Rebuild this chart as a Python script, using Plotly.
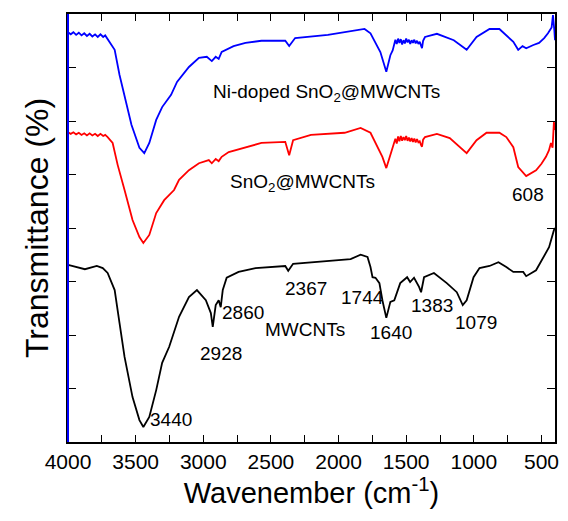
import plotly.graph_objects as go

# Wavenumber (cm^-1) and offset transmittance values
blue_wn = [4000, 3980, 3960, 3940, 3920, 3900, 3880, 3860, 3840, 3820, 3800, 3780, 3760, 3740, 3725, 3714, 3690,
           3655, 3619, 3582, 3531, 3472, 3436, 3399, 3348, 3304, 3238, 3194, 3106, 3032, 2974, 2937, 2908, 2886,
           2864, 2776, 2688, 2570, 2394, 2365, 2321, 2079, 1859, 1808, 1764, 1735, 1691, 1647, 1617,
           1600, 1590, 1580, 1570, 1560, 1550, 1540, 1530, 1520, 1510, 1500, 1490, 1480, 1470, 1460, 1450,
           1440, 1430, 1420, 1410, 1400, 1390, 1383, 1375, 1361, 1273, 1148, 1053, 980, 884, 811, 708, 672,
           640, 613, 560, 518, 480, 452, 425, 415, 405, 400]
blue_y = [7.66, 7.62, 7.66, 7.61, 7.65, 7.60, 7.64, 7.59, 7.63, 7.58, 7.62, 7.57, 7.62, 7.57, 7.60, 7.56, 7.48,
          7.33, 6.86, 6.45, 5.93, 5.50, 5.40, 5.59, 6.02, 6.26, 6.49, 6.73, 7.01, 7.18, 7.20, 7.12, 7.20, 7.16,
          7.29, 7.40, 7.46, 7.50, 7.50, 7.40, 7.55, 7.61, 7.70, 7.72, 7.64, 7.51, 7.29, 6.92, 7.23,
          7.32, 7.42, 7.52, 7.44, 7.54, 7.46, 7.53, 7.43, 7.51, 7.45, 7.54, 7.47, 7.52, 7.44, 7.51, 7.46,
          7.52, 7.45, 7.50, 7.44, 7.48, 7.41, 7.36, 7.50, 7.57, 7.63, 7.51, 7.33, 7.57, 7.72, 7.72, 7.48, 7.33,
          7.40, 7.36, 7.42, 7.46, 7.55, 7.64, 7.75, 7.98, 7.70, 7.51]

red_wn = [4000, 3980, 3960, 3940, 3920, 3900, 3880, 3860, 3840, 3820, 3800, 3780, 3760, 3740, 3725, 3707, 3670,
          3633, 3582, 3523, 3472, 3443, 3399, 3348, 3289, 3216, 3179, 3106, 3032, 2959, 2937, 2908, 2886, 2864,
          2812, 2570, 2394, 2365, 2336, 2204, 1955, 1837, 1764, 1735, 1676, 1647, 1603,
          1590, 1580, 1570, 1560, 1550, 1540, 1530, 1520, 1510, 1500, 1490, 1480, 1470, 1460, 1450, 1440,
          1430, 1420, 1410, 1400, 1390, 1383, 1375, 1361, 1273, 1178, 1053, 980, 906, 811, 760, 708, 672, 613,
          540, 500, 467, 445, 430, 418, 408, 400]
red_y = [5.79, 5.76, 5.79, 5.75, 5.78, 5.74, 5.77, 5.73, 5.77, 5.73, 5.76, 5.72, 5.76, 5.72, 5.74, 5.70, 5.59,
         5.18, 4.71, 4.15, 3.83, 3.72, 3.87, 4.28, 4.52, 4.71, 4.90, 5.08, 5.21, 5.27, 5.21, 5.29, 5.25, 5.33,
         5.42, 5.59, 5.61, 5.36, 5.64, 5.74, 5.78, 5.87, 5.78, 5.64, 5.33, 5.12, 5.46,
         5.60, 5.67, 5.58, 5.71, 5.62, 5.72, 5.63, 5.70, 5.64, 5.72, 5.63, 5.69, 5.62, 5.68, 5.61, 5.67,
         5.60, 5.66, 5.60, 5.62, 5.55, 5.52, 5.65, 5.70, 5.76, 5.68, 5.40, 5.64, 5.78, 5.78, 5.70, 5.51, 5.14, 4.97,
         5.08, 5.20, 5.33, 5.45, 5.59, 5.50, 5.98, 5.83]

black_wn = [4000, 3875, 3787, 3743, 3707, 3655, 3619, 3582, 3523, 3472, 3443, 3399, 3348, 3304, 3252, 3179, 3106,
            3047, 2981, 2944, 2930, 2908, 2886, 2871, 2856, 2827, 2739, 2614, 2394, 2372, 2336, 2079, 1911, 1837,
            1786, 1764, 1749, 1727, 1698, 1676, 1647, 1617, 1588, 1544, 1493, 1471, 1442, 1405, 1390, 1368, 1295,
            1200, 1126, 1082, 1053, 1002, 958, 884, 818, 760, 708, 635, 613, 540, 481, 444, 408, 400]
black_y = [3.31, 3.23, 3.29, 3.25, 3.16, 2.84, 2.22, 1.59, 0.84, 0.41, 0.28, 0.47, 0.97, 1.48, 1.78, 2.34, 2.71,
           2.84, 2.65, 2.41, 2.15, 2.56, 2.65, 2.52, 2.84, 3.07, 3.18, 3.25, 3.29, 3.20, 3.33, 3.38, 3.42, 3.50,
           3.46, 3.27, 3.08, 3.07, 2.97, 2.65, 2.32, 2.62, 2.65, 2.97, 3.08, 2.99, 3.07, 2.90, 2.80, 3.08, 3.16,
           2.97, 2.80, 2.56, 2.65, 3.08, 3.25, 3.29, 3.36, 3.27, 3.18, 3.18, 3.10, 3.21, 3.46, 3.64, 3.96, 4.00]

label_texts = ["3440", "2928", "2860", "2367", "MWCNTs", "1744", "1640", "1383", "1079", "608",
               "Ni-doped SnO<sub>2</sub>@MWCNTs", "SnO<sub>2</sub>@MWCNTs"]
label_x = [3238, 2871, 2710, 2241, 2248, 1823, 1610, 1310, 987, 598, 2087, 2263]
label_y = [0.43, 1.66, 2.43, 2.86, 2.11, 2.71, 2.04, 2.56, 2.24, 4.62, 6.52, 4.84]

FONT = "Liberation Sans, Arial, sans-serif"

fig = go.Figure()
for wn, yv, col in [(black_wn, black_y, "black"), (red_wn, red_y, "red"), (blue_wn, blue_y, "blue")]:
    fig.add_trace(go.Scatter(x=wn, y=yv, mode="lines", line=dict(color=col, width=1.8), showlegend=False))

for t, x, y in zip(label_texts, label_x, label_y):
    fig.add_annotation(x=x, y=y, text=t, showarrow=False, xanchor="center", yanchor="middle",
                       font=dict(family=FONT, size=19, color="black"))

fig.add_shape(type="line", xref="paper", yref="paper", x0=0, x1=0, y0=0, y1=1,
              line=dict(color="blue", width=2), layer="above")

fig.update_layout(
    width=568, height=521,
    margin=dict(l=68, r=9, t=14, b=79),
    paper_bgcolor="white", plot_bgcolor="white",
    font=dict(family=FONT, color="black"),
    xaxis=dict(range=[4000, 400], tick0=0, dtick=500, ticks="inside", ticklen=7, tickwidth=1.3,
               tickcolor="black", showline=True, linecolor="black", linewidth=1.5, mirror="ticks",
               showgrid=False, zeroline=False, tickfont=dict(size=21, family=FONT),
               minor=dict(dtick=250, ticks="inside", ticklen=7, tickwidth=1.3, tickcolor="black", showgrid=False),
               title=dict(text="Wavenember (cm<sup>-1</sup>)", font=dict(size=29, family=FONT), standoff=8)),
    yaxis=dict(range=[0, 8], dtick=1, ticks="inside", ticklen=8, tickwidth=1.3, tickcolor="black",
               showline=True, linecolor="black", linewidth=1.5, mirror="ticks", showticklabels=False,
               showgrid=False, zeroline=False,
               title=dict(text="Transmittance (%)", font=dict(size=32, family=FONT), standoff=8)),
)

fig.write_html("out.html")
